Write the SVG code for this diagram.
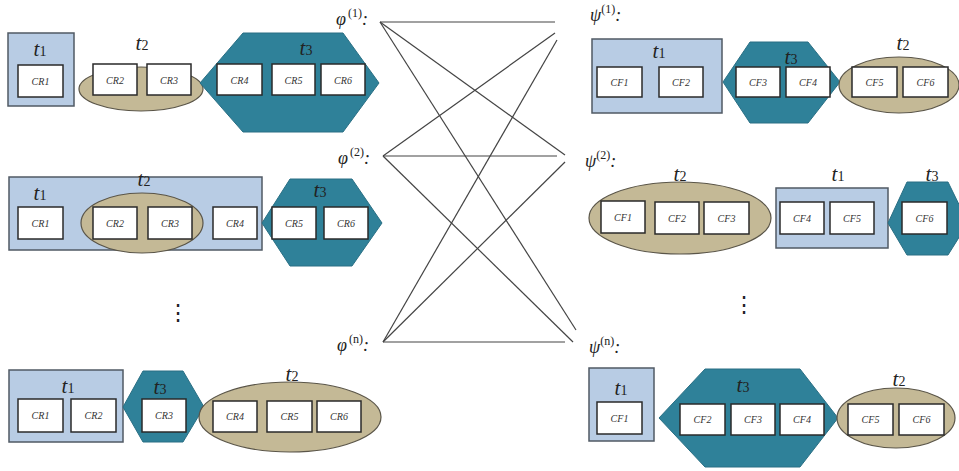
<svg xmlns="http://www.w3.org/2000/svg" width="959" height="471" viewBox="0 0 959 471">
<style>
.bg{fill:#fff}
.blue{fill:#b8cce4;stroke:#505a64;stroke-width:1.5}
.tan{fill:#c4b996;stroke:#5a5548;stroke-width:1.2}
.teal{fill:#2f8199;stroke:#2a6f84;stroke-width:1}
.box{fill:#fff;stroke:#2a2a2a;stroke-width:1.5}
.bt{font-family:"Liberation Serif",serif;font-style:italic;font-size:10px;fill:#333;text-anchor:middle}
.tl{font-family:"Liberation Serif",serif;font-style:italic;font-size:21px;fill:#222;text-anchor:middle}
.tl .s{font-style:normal;font-size:14px}
.lab{font-family:"Liberation Serif",serif;font-style:italic;font-size:18px;fill:#222}
.lab .s{font-style:normal;font-size:12px}
.dots{font-family:"Liberation Serif",serif;font-size:22px;fill:#222;text-anchor:middle}
.ln{stroke:#444;stroke-width:1.2;fill:none}
</style>
<rect class="bg" width="959" height="471"/>

<g id="connectors">
<line class="ln" x1="380" y1="22" x2="555" y2="22"/>
<line class="ln" x1="380" y1="22" x2="565" y2="155"/>
<line class="ln" x1="380" y1="22" x2="576" y2="330"/>
<line class="ln" x1="383" y1="156" x2="555" y2="33"/>
<line class="ln" x1="383" y1="156" x2="557" y2="156"/>
<line class="ln" x1="383" y1="156" x2="573" y2="342"/>
<line class="ln" x1="383" y1="342" x2="557" y2="40"/>
<line class="ln" x1="383" y1="342" x2="565" y2="162"/>
<line class="ln" x1="383" y1="342" x2="565" y2="342"/>
</g>

<g id="labels">
<text class="lab" x="336" y="25">φ<tspan class="s" dx="2" dy="-8">(1)</tspan><tspan dy="8">:</tspan></text>
<text class="lab" x="338" y="164">φ<tspan class="s" dx="2" dy="-8">(2)</tspan><tspan dy="8">:</tspan></text>
<text class="lab" x="337" y="351">φ<tspan class="s" dx="2" dy="-8">(n)</tspan><tspan dy="8">:</tspan></text>
<text class="lab" x="590" y="21">ψ<tspan class="s" dy="-8">(1)</tspan><tspan dy="8">:</tspan></text>
<text class="lab" x="585" y="167">ψ<tspan class="s" dy="-8">(2)</tspan><tspan dy="8">:</tspan></text>
<text class="lab" x="589" y="353">ψ<tspan class="s" dy="-8">(n)</tspan><tspan dy="8">:</tspan></text>
<text class="dots" x="178" y="320">⋮</text>
<text class="dots" x="744" y="312">⋮</text>
</g>

<!-- Left row 1 -->
<g id="L1">
<rect class="blue" x="8" y="33" width="66" height="73"/>
<text class="tl" x="40" y="56">t<tspan class="s">1</tspan></text>
<rect class="box" x="18" y="65" width="45" height="32"/><text class="bt" x="40.5" y="85">CR1</text>
<ellipse class="tan" cx="141" cy="89" rx="62" ry="22"/>
<text class="tl" x="142" y="50">t<tspan class="s">2</tspan></text>
<rect class="box" x="93" y="64" width="44" height="31"/><text class="bt" x="115" y="84">CR2</text>
<rect class="box" x="147" y="64" width="44" height="31"/><text class="bt" x="169" y="84">CR3</text>
<polygon class="teal" points="200,83 243,33 343,33 379,83 343,132 243,132"/>
<text class="tl" x="306" y="55">t<tspan class="s">3</tspan></text>
<rect class="box" x="217" y="64" width="45" height="31"/><text class="bt" x="239.5" y="84">CR4</text>
<rect class="box" x="272" y="64" width="43" height="31"/><text class="bt" x="293.5" y="84">CR5</text>
<rect class="box" x="321" y="64" width="44" height="31"/><text class="bt" x="343" y="84">CR6</text>
</g>

<!-- Left row 2 -->
<g id="L2">
<rect class="blue" x="9" y="177" width="253" height="73"/>
<text class="tl" x="40" y="200">t<tspan class="s">1</tspan></text>
<ellipse class="tan" cx="142" cy="223" rx="61" ry="30"/>
<text class="tl" x="144" y="186">t<tspan class="s">2</tspan></text>
<rect class="box" x="18" y="207" width="45" height="32"/><text class="bt" x="40.5" y="227">CR1</text>
<rect class="box" x="93" y="207" width="44" height="32"/><text class="bt" x="115" y="227">CR2</text>
<rect class="box" x="148" y="207" width="44" height="32"/><text class="bt" x="170" y="227">CR3</text>
<rect class="box" x="213" y="207" width="44" height="32"/><text class="bt" x="235" y="227">CR4</text>
<polygon class="teal" points="262,223 290,179 352,179 382,223 352,266 290,266"/>
<text class="tl" x="320" y="197">t<tspan class="s">3</tspan></text>
<rect class="box" x="272" y="207" width="44" height="32"/><text class="bt" x="294" y="227">CR5</text>
<rect class="box" x="324" y="207" width="44" height="32"/><text class="bt" x="346" y="227">CR6</text>
</g>

<!-- Left row n -->
<g id="L3">
<rect class="blue" x="9" y="370" width="114" height="72"/>
<text class="tl" x="68" y="393">t<tspan class="s">1</tspan></text>
<rect class="box" x="18" y="399" width="45" height="33"/><text class="bt" x="40.5" y="419">CR1</text>
<rect class="box" x="71" y="399" width="45" height="33"/><text class="bt" x="93.5" y="419">CR2</text>
<polygon class="teal" points="123,407 143,371 183,371 204,407 183,442 143,442"/>
<text class="tl" x="160" y="394">t<tspan class="s">3</tspan></text>
<rect class="box" x="142" y="399" width="44" height="33"/><text class="bt" x="164" y="419">CR3</text>
<ellipse class="tan" cx="290" cy="417" rx="91" ry="35"/>
<text class="tl" x="292" y="381">t<tspan class="s">2</tspan></text>
<rect class="box" x="213" y="401" width="44" height="31"/><text class="bt" x="235" y="420">CR4</text>
<rect class="box" x="267" y="401" width="45" height="31"/><text class="bt" x="289.5" y="420">CR5</text>
<rect class="box" x="317" y="401" width="44" height="31"/><text class="bt" x="339" y="420">CR6</text>
</g>

<!-- Right row 1 -->
<g id="R1">
<rect class="blue" x="592" y="39" width="130" height="74"/>
<text class="tl" x="659" y="58">t<tspan class="s">1</tspan></text>
<rect class="box" x="597" y="67" width="45" height="30"/><text class="bt" x="619.5" y="86">CF1</text>
<rect class="box" x="659" y="67" width="44" height="30"/><text class="bt" x="681" y="86">CF2</text>
<polygon class="teal" points="723,82 750,42 808,42 840,82 808,123 750,123"/>
<text class="tl" x="791" y="64">t<tspan class="s">3</tspan></text>
<rect class="box" x="736" y="67" width="44" height="30"/><text class="bt" x="758" y="86">CF3</text>
<rect class="box" x="786" y="67" width="44" height="30"/><text class="bt" x="808" y="86">CF4</text>
<ellipse class="tan" cx="899" cy="85" rx="60" ry="28"/>
<text class="tl" x="903" y="50">t<tspan class="s">2</tspan></text>
<rect class="box" x="852" y="67" width="45" height="30"/><text class="bt" x="874.5" y="86">CF5</text>
<rect class="box" x="903" y="67" width="45" height="30"/><text class="bt" x="925.5" y="86">CF6</text>
</g>

<!-- Right row 2 -->
<g id="R2">
<ellipse class="tan" cx="680" cy="218" rx="91" ry="36"/>
<text class="tl" x="680" y="181">t<tspan class="s">2</tspan></text>
<rect class="box" x="601" y="201" width="44" height="32"/><text class="bt" x="623" y="221">CF1</text>
<rect class="box" x="655" y="202" width="44" height="32"/><text class="bt" x="677" y="222">CF2</text>
<rect class="box" x="704" y="202" width="45" height="32"/><text class="bt" x="726.5" y="222">CF3</text>
<rect class="blue" x="776" y="188" width="112" height="60"/>
<text class="tl" x="838" y="181">t<tspan class="s">1</tspan></text>
<rect class="box" x="780" y="202" width="44" height="32"/><text class="bt" x="802" y="222">CF4</text>
<rect class="box" x="830" y="202" width="44" height="32"/><text class="bt" x="852" y="222">CF5</text>
<polygon class="teal" points="888,223 907,182 948,182 968,223 948,255 907,255"/>
<text class="tl" x="932" y="181">t<tspan class="s">3</tspan></text>
<rect class="box" x="902" y="202" width="45" height="32"/><text class="bt" x="924.5" y="222">CF6</text>
</g>

<!-- Right row n -->
<g id="R3">
<rect class="blue" x="589" y="368" width="65" height="73"/>
<text class="tl" x="621" y="395">t<tspan class="s">1</tspan></text>
<rect class="box" x="597" y="402" width="45" height="32"/><text class="bt" x="619.5" y="422">CF1</text>
<polygon class="teal" points="659,418 705,369 800,369 838,418 800,467 705,467"/>
<text class="tl" x="743" y="392">t<tspan class="s">3</tspan></text>
<rect class="box" x="680" y="404" width="45" height="31"/><text class="bt" x="702.5" y="423">CF2</text>
<rect class="box" x="731" y="404" width="44" height="31"/><text class="bt" x="753" y="423">CF3</text>
<rect class="box" x="780" y="404" width="44" height="31"/><text class="bt" x="802" y="423">CF4</text>
<ellipse class="tan" cx="896" cy="418" rx="59" ry="30"/>
<text class="tl" x="899" y="386">t<tspan class="s">2</tspan></text>
<rect class="box" x="848" y="404" width="45" height="31"/><text class="bt" x="870.5" y="423">CF5</text>
<rect class="box" x="899" y="404" width="45" height="31"/><text class="bt" x="921.5" y="423">CF6</text>
</g>
</svg>
